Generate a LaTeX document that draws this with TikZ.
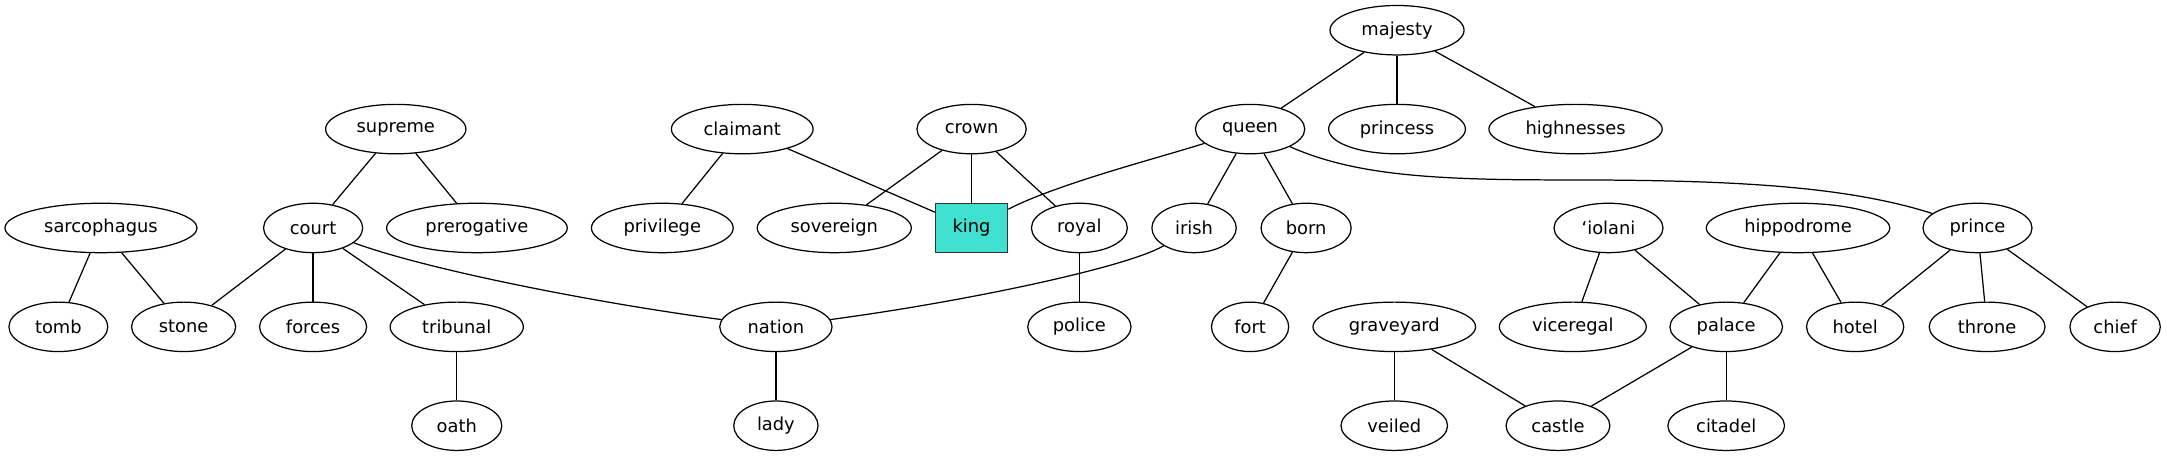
\documentclass[tikz,border=0pt]{standalone}
\usepackage{fontspec}
\setmainfont{DejaVu Sans}
\usetikzlibrary{shapes.geometric}
\definecolor{kingfill}{HTML}{40E0D0}
\tikzset{
  el/.style={ellipse, draw=black, line width=0.9pt, inner sep=0pt, minimum height=36pt,
             font=\fontsize{13}{15}\selectfont},
  kbox/.style={rectangle, draw=black!80, fill=kingfill, line width=0.9pt, inner sep=0pt,
             minimum width=52.5pt, minimum height=36pt, font=\fontsize{13}{15}\selectfont},
  edge/.style={draw=black, line width=0.9pt}
}
\begin{document}
\begin{tikzpicture}[x=1pt,y=-1pt]
\useasboundingbox (0,0) rectangle (1578,332);
% row 1
\node[el, minimum width=97.6pt] (majesty) at (1017.3,22) {majesty};
% row 2
\node[el, minimum width=102.2pt] (supreme) at (288.2,94) {supreme};
\node[el, minimum width=103.2pt] (claimant) at (540.5,94) {claimant};
\node[el, minimum width=79.6pt] (crown) at (707.5,94) {crown};
\node[el, minimum width=79.6pt] (queen) at (910.3,94) {queen};
\node[el, minimum width=99.6pt] (princess) at (1017.3,94) {princess};
\node[el, minimum width=126.2pt] (highnesses) at (1147.3,94) {highnesses};
% row 3
\node[el, minimum width=139.8pt] (sarcophagus) at (73.5,166) {sarcophagus};
\node[el, minimum width=72.2pt] (court) at (228,166) {court};
\node[el, minimum width=131.6pt] (prerogative) at (347.3,166) {prerogative};
\node[el, minimum width=103.2pt] (privilege) at (482.3,166) {privilege};
\node[el, minimum width=112.2pt] (sovereign) at (607.5,166) {sovereign};
\node[kbox] (king) at (707.5,166) {king};
\node[el, minimum width=69.8pt] (royal) at (786,166) {royal};
\node[el, minimum width=61.4pt] (irish) at (869.5,166) {irish};
\node[el, minimum width=65.6pt] (born) at (951.1,166) {born};
\node[el, minimum width=79.4pt] (iolani) at (1171.3,166) {‘iolani};
\node[el, minimum width=133.6pt] (hippodrome) at (1309.3,166) {hippodrome};
\node[el, minimum width=79.4pt] (prince) at (1440,166) {prince};
% row 4
\node[el, minimum width=72pt] (tomb) at (42.5,238) {tomb};
\node[el, minimum width=75.8pt] (stone) at (133.7,238) {stone};
\node[el, minimum width=78pt] (forces) at (228,238) {forces};
\node[el, minimum width=97pt] (tribunal) at (332.6,238) {tribunal};
\node[el, minimum width=81.8pt] (nation) at (565,238) {nation};
\node[el, minimum width=75.2pt] (police) at (786,238) {police};
\node[el, minimum width=56.2pt] (fort) at (910.3,238) {fort};
\node[el, minimum width=118.4pt] (graveyard) at (1015.3,238) {graveyard};
\node[el, minimum width=107pt] (viceregal) at (1145.3,238) {viceregal};
\node[el, minimum width=82pt] (palace) at (1257,238) {palace};
\node[el, minimum width=70.8pt] (hotel) at (1350.9,238) {hotel};
\node[el, minimum width=84.4pt] (throne) at (1447,238) {throne};
\node[el, minimum width=65.8pt] (chief) at (1540.2,238) {chief};
% row 5
\node[el, minimum width=65.6pt] (oath) at (332.6,310) {oath};
\node[el, minimum width=61.4pt] (lady) at (565,310) {lady};
\node[el, minimum width=77.6pt] (veiled) at (1015.3,310) {veiled};
\node[el, minimum width=75.6pt] (castle) at (1134.5,310) {castle};
\node[el, minimum width=85pt] (citadel) at (1257,310) {citadel};
% edges
\draw[edge] (majesty) -- (queen);
\draw[edge] (majesty) -- (princess);
\draw[edge] (majesty) -- (highnesses);
\draw[edge] (supreme) -- (court);
\draw[edge] (supreme) -- (prerogative);
\draw[edge] (claimant) -- (privilege);
\draw[edge] (claimant) -- (king);
\draw[edge] (crown) -- (sovereign);
\draw[edge] (crown) -- (king);
\draw[edge] (crown) -- (royal);
\draw[edge] (queen) .. controls (840,116) and (770,134) .. (king);
\draw[edge] (queen) -- (irish);
\draw[edge] (queen) -- (born);
\draw[edge] (queen) .. controls (985,127) and (1040,131) .. (1133,131)
                    .. controls (1250,131) and (1340,134) .. (prince);
\draw[edge] (sarcophagus) -- (tomb);
\draw[edge] (sarcophagus) -- (stone);
\draw[edge] (court) -- (stone);
\draw[edge] (court) -- (forces);
\draw[edge] (court) -- (tribunal);
\draw[edge] (court) .. controls (310,196) and (430,220) .. (nation);
\draw[edge] (royal) -- (police);
\draw[edge] (irish) .. controls (820,195) and (700,220) .. (nation);
\draw[edge] (born) -- (fort);
\draw[edge] (iolani) -- (viceregal);
\draw[edge] (iolani) -- (palace);
\draw[edge] (hippodrome) -- (palace);
\draw[edge] (hippodrome) -- (hotel);
\draw[edge] (prince) -- (hotel);
\draw[edge] (prince) -- (throne);
\draw[edge] (prince) -- (chief);
\draw[edge] (tribunal) -- (oath);
\draw[edge] (nation) -- (lady);
\draw[edge] (graveyard) -- (veiled);
\draw[edge] (graveyard) -- (castle);
\draw[edge] (palace) -- (castle);
\draw[edge] (palace) -- (citadel);
\end{tikzpicture}
\end{document}
